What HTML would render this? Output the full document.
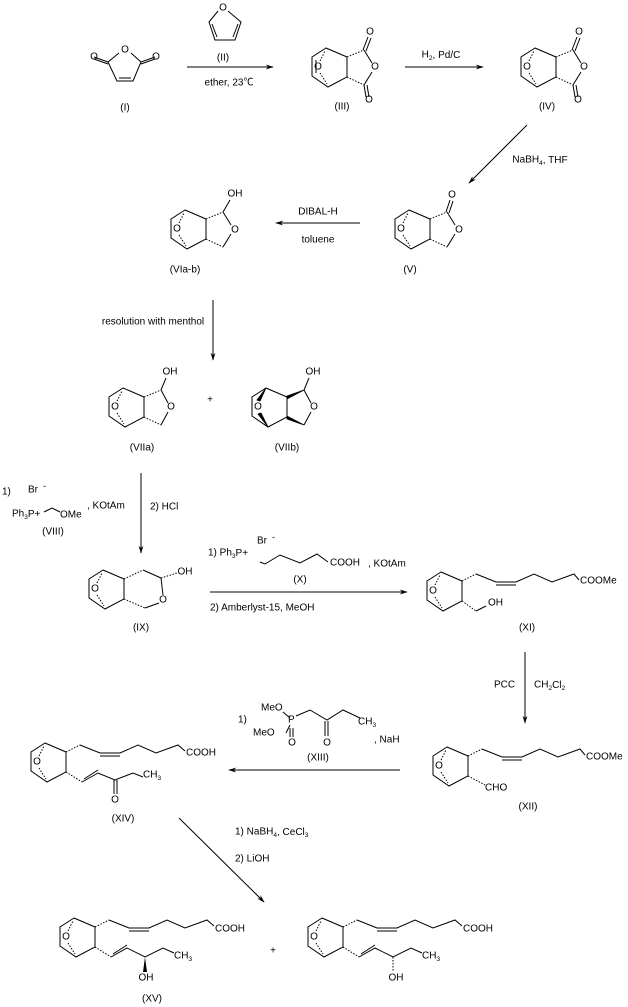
<!DOCTYPE html>
<html><head><meta charset="utf-8"><style>
html,body{margin:0;padding:0;background:#fff}
svg{display:block}
text{font-family:"Liberation Sans","Noto Sans CJK SC",sans-serif;font-size:10px;fill:#000;dominant-baseline:central}
.m{text-anchor:middle}
.s{font-size:6.5px}
</style></head><body>
<svg width="628" height="1007" viewBox="0 0 628 1007" xmlns="http://www.w3.org/2000/svg">
<defs>
<marker id="ah" viewBox="0 0 10 10" refX="9" refY="5" markerWidth="8" markerHeight="8" orient="auto" markerUnits="userSpaceOnUse"><path d="M0,2 L10,5 L0,8 L3,5 Z" fill="#000"/></marker>
<g id="core" fill="none" stroke="#000" stroke-width="1">
<path d="M0,0 L-14,9 L-14,28 L2,39 L21,29 L21,9 Z"/>
<path d="M-6,13 L-1,3 M-6,25 L1,36" stroke-dasharray="1.5,1.5"/>
</g>
</defs>
<g fill="none" stroke="#000" stroke-width="1">
<path d="M119,53 L108,62 L117,81 L133,81 L141,62 L131,53"/>
<path d="M119,78 L131,78"/>
<path d="M108,62 L94,57 M108,64 L94,59 M141,62 L155,57 M141,64 L155,59"/>
<path d="M218,11 L209,22 L215,40 L235,40 L241,22 L228,11"/>
<path d="M212,24 L217,37 M238,24 L233,37"/>
<line x1="187" y1="67" x2="273" y2="67" marker-end="url(#ah)"/>
<line x1="405" y1="67" x2="483" y2="67" marker-end="url(#ah)"/>
<line x1="527" y1="125" x2="469" y2="183" marker-end="url(#ah)"/>
<line x1="360" y1="223" x2="276" y2="223" marker-end="url(#ah)"/>
<line x1="213" y1="300" x2="213" y2="360" marker-end="url(#ah)"/>
<line x1="141" y1="473" x2="141" y2="553" marker-end="url(#ah)"/>
<line x1="210" y1="592" x2="407" y2="592" marker-end="url(#ah)"/>
<line x1="525" y1="652" x2="525" y2="723" marker-end="url(#ah)"/>
<line x1="400" y1="770" x2="229" y2="770" marker-end="url(#ah)"/>
<line x1="179" y1="818" x2="264" y2="902" marker-end="url(#ah)"/>
</g>
<g transform="translate(326,48)">
<use href="#core"/>
<g fill="none" stroke="#000">
<path d="M-10,12 L-10,25"/>
<path d="M21,9 L38,2 M21,29 L38,37" stroke-dasharray="1.5,1.5"/>
<path d="M38,2 L46,15 M38,37 L46,24 M37,2 L42,-11 M40,3 L45,-10 M38,37 L40,49 M41,37 L43,49"/>
</g>
<text x="44" y="-16" class="m">O</text><text x="49" y="19" class="m">O</text><text x="43" y="52" class="m">O</text><text x="-8" y="19" class="m">O</text>
</g>
<g transform="translate(535,48)">
<use href="#core"/>
<g fill="none" stroke="#000">
<path d="M21,9 L38,2 M21,29 L38,37" stroke-dasharray="1.5,1.5"/>
<path d="M38,2 L46,15 M38,37 L46,24 M37,2 L42,-11 M40,3 L45,-10 M38,37 L40,49 M41,37 L43,49"/>
</g>
<text x="44" y="-16" class="m">O</text><text x="49" y="19" class="m">O</text><text x="43" y="52" class="m">O</text><text x="-8" y="19" class="m">O</text>
</g>
<g transform="translate(409,210)">
<use href="#core"/>
<g fill="none" stroke="#000">
<path d="M21,9 L38,2 M21,29 L38,37" stroke-dasharray="1.5,1.5"/>
<path d="M38,2 L46,15 M38,37 L46,24 M37,2 L41,-10 M40,3 L44,-9"/>
</g>
<text x="43" y="-15" class="m">O</text><text x="50" y="20" class="m">O</text><text x="-8" y="19" class="m">O</text>
</g>
<g transform="translate(185,210)">
<use href="#core"/>
<g fill="none" stroke="#000">
<path d="M21,9 L38,2 M21,29 L38,37" stroke-dasharray="1.5,1.5"/>
<path d="M38,2 L46,15 M38,37 L46,24 M38,2 L45,-10"/>
</g>
<text x="50" y="-16" class="m">OH</text><text x="50" y="20" class="m">O</text><text x="-8" y="19" class="m">O</text>
</g>
<g transform="translate(123,388)">
<use href="#core"/>
<g fill="none" stroke="#000">
<path d="M21,9 L38,2 M21,29 L38,37" stroke-dasharray="1.5,1.5"/>
<path d="M38,2 L45,15 M38,37 L45,24 M38,2 L43,-10"/>
</g>
<text x="47" y="-16" class="m">OH</text><text x="48" y="19" class="m">O</text><text x="-8" y="19" class="m">O</text>
</g>
<g transform="translate(266,388)">
<path d="M0,0 L-14,9 L-14,28 L2,39 L21,29 L21,9 Z" fill="none" stroke="#000"/>
<path d="M0,0 L-9,12 L-6,13 Z M2,39 L-8,26 L-5,25 Z M38,2 L21,8 L21,11 Z M38,37 L21,28 L21,31 Z" fill="#000" stroke="#000" stroke-width="0.8"/>
<path d="M38,2 L45,15 M38,37 L45,24 M38,2 L43,-10" fill="none" stroke="#000"/>
<text x="47" y="-16" class="m">OH</text><text x="48" y="19" class="m">O</text><text x="-8" y="19" class="m">O</text>
</g>
<g transform="translate(103,570)">
<use href="#core"/>
<g fill="none" stroke="#000">
<path d="M21,9 L40,0 M21,29 L42,38" stroke-dasharray="1.5,1.5"/>
<path d="M40,0 L58,8 L60,25 M56,33 L42,38"/>
<path d="M58,8 L74,3" stroke-dasharray="1.5,1.5"/>
</g>
<text x="82" y="2" class="m">OH</text><text x="60" y="30" class="m">O</text><text x="-8" y="19" class="m">O</text>
</g>
<g transform="translate(441,572)">
<use href="#core"/>
<g fill="none" stroke="#000">
<path d="M21,9 L35,2 M21,29 L35,39" stroke-dasharray="1.5,1.5"/>
<path d="M35,2 L55,10 L75,10 L93,2 L111,10 L133,2 L138,8 M55,13 L75,13 M35,39 L45,34"/>
</g>
<text x="139" y="9">COOMe</text><text x="47" y="31">OH</text><text x="-8" y="19" class="m">O</text>
</g>
<g transform="translate(447,747)">
<use href="#core"/>
<g fill="none" stroke="#000">
<path d="M21,9 L35,2 M21,29 L38,38" stroke-dasharray="1.5,1.5"/>
<path d="M35,2 L55,10 L75,10 L93,2 L111,10 L133,2 L138,8 M55,13 L75,13"/>
</g>
<text x="139" y="10">COOMe</text><text x="38" y="41">CHO</text><text x="-8" y="19" class="m">O</text>
</g>
<g transform="translate(45,743)">
<use href="#core"/>
<g fill="none" stroke="#000">
<path d="M21,9 L35,2 M21,29 L37,39" stroke-dasharray="1.5,1.5"/>
<path d="M35,2 L55,10 L75,10 L93,2 L111,10 L133,2 L140,8 M55,13 L75,13"/>
<path d="M37,39 L53,30 L70,37 L88,30 L98,34 M39,36 L53,27 M69,37 L69,51 M72,37 L72,51"/>
</g>
<text x="141" y="10">COOH</text><text x="98" y="32">CH<tspan class="s" dy="3">3</tspan></text><text x="70" y="57" class="m">O</text><text x="-8" y="19" class="m">O</text>
</g>
<g transform="translate(74,918)">
<use href="#core"/>
<g fill="none" stroke="#000">
<path d="M21,9 L35,2 M21,29 L37,39" stroke-dasharray="1.5,1.5"/>
<path d="M35,2 L55,10 L75,10 L93,2 L111,10 L133,2 L140,8 M55,13 L75,13"/>
<path d="M37,39 L53,30 L71,39 L89,30 L100,35 M39,36 L53,27"/>
</g>
<path d="M71,39 L69,54 L73,54 Z" fill="#000"/>
<text x="141" y="11">COOH</text><text x="100" y="38">CH<tspan class="s" dy="3">3</tspan></text><text x="72" y="60" class="m">OH</text><text x="-8" y="19" class="m">O</text>
</g>
<g transform="translate(322,918)">
<use href="#core"/>
<g fill="none" stroke="#000">
<path d="M21,9 L35,2 M21,29 L37,39 M71,39 L71,54" stroke-dasharray="1.5,1.5"/>
<path d="M35,2 L55,10 L75,10 L93,2 L111,10 L133,2 L140,8 M55,13 L75,13"/>
<path d="M37,39 L53,30 L71,39 L89,30 L100,35 M39,36 L53,27"/>
</g>
<text x="141" y="11">COOH</text><text x="100" y="38">CH<tspan class="s" dy="3">3</tspan></text><text x="74" y="60" class="m">OH</text><text x="-8" y="19" class="m">O</text>
</g>
<path d="M44,512 L52,508 L60,512" fill="none" stroke="#000"/>
<path d="M260,562 L265,564 L280,555 L300,563 L317,554 L328,562" fill="none" stroke="#000"/>
<path d="M283,712 L290,718 M286,733 L290,725 M296,716 L310,710 L327,720 L343,710 L360,718 M290,728 L290,737 M293,728 L293,737 M325,721 L325,736 M328,721 L328,736" fill="none" stroke="#000"/>
<text x="94" y="57" class="m">O</text><text x="125" y="50" class="m">O</text><text x="156" y="57" class="m">O</text>
<text x="125" y="108" class="m">(I)</text>
<text x="223" y="8" class="m">O</text>
<text x="223" y="58" class="m">(II)</text>
<text x="229" y="83" class="m">ether, 23℃</text>
<text x="342" y="107" class="m">(III)</text>
<text x="441" y="55" class="m">H<tspan class="s" dy="3">2</tspan><tspan dy="-3">, Pd/C</tspan></text>
<text x="547" y="107" class="m">(IV)</text>
<text x="540" y="160" class="m">NaBH<tspan class="s" dy="3">4</tspan><tspan dy="-3">, THF</tspan></text>
<text x="318" y="212" class="m">DIBAL-H</text>
<text x="318" y="240" class="m">toluene</text>
<text x="410" y="270" class="m">(V)</text>
<text x="185" y="270" class="m">(VIa-b)</text>
<text x="153" y="322" class="m">resolution with menthol</text>
<text x="142" y="448" class="m">(VIIa)</text>
<text x="210" y="400" class="m">+</text>
<text x="287" y="448" class="m">(VIIb)</text>
<text x="2" y="492">1)</text>
<text x="28" y="490">Br</text><text x="43" y="486" style="font-size:9px">-</text>
<text x="12" y="514">Ph<tspan class="s" dy="3">3</tspan><tspan dy="-3">P+</tspan></text>
<text x="60" y="515">OMe</text>
<text x="87" y="506">, KOtAm</text>
<text x="53" y="532" class="m">(VIII)</text>
<text x="150" y="507">2) HCl</text>
<text x="141" y="628" class="m">(IX)</text>
<text x="208" y="553">1) Ph<tspan class="s" dy="3">3</tspan><tspan dy="-3">P+</tspan></text>
<text x="257" y="541">Br</text><text x="272" y="537" style="font-size:9px">-</text>
<text x="330" y="563">COOH</text><text x="368" y="564">, KOtAm</text>
<text x="300" y="580" class="m">(X)</text>
<text x="210" y="608">2) Amberlyst-15, MeOH</text>
<text x="527" y="628" class="m">(XI)</text>
<text x="494" y="685">PCC</text>
<text x="534" y="685">CH<tspan class="s" dy="3">2</tspan><tspan dy="-3">Cl</tspan><tspan class="s" dy="3">2</tspan></text>
<text x="238" y="720">1)</text>
<text x="261" y="708">MeO</text>
<text x="288" y="720">P</text>
<text x="253" y="733">MeO</text>
<text x="292" y="743" class="m">O</text>
<text x="327" y="743" class="m">O</text>
<text x="358" y="722">CH<tspan class="s" dy="3">3</tspan></text>
<text x="374" y="740">, NaH</text>
<text x="318" y="758" class="m">(XIII)</text>
<text x="123" y="819" class="m">(XIV)</text>
<text x="528" y="807" class="m">(XII)</text>
<text x="235" y="832">1) NaBH<tspan class="s" dy="3">4</tspan><tspan dy="-3">, CeCl</tspan><tspan class="s" dy="3">3</tspan></text>
<text x="235" y="859">2) LiOH</text>
<text x="273" y="951" class="m">+</text>
<text x="152" y="999" class="m">(XV)</text>
</svg>
</body></html>
